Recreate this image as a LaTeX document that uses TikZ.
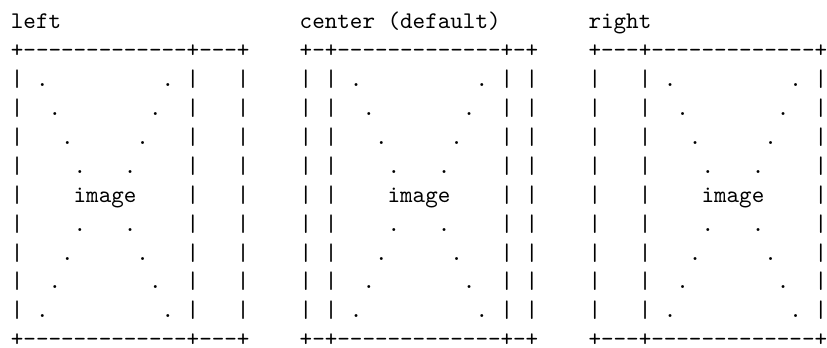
\documentclass[tikz,border=0pt]{standalone}
\begin{document}
\begin{tikzpicture}[x=5.25pt,y=12.11pt]
\tikzstyle{every node}+=[inner sep=0pt,anchor=base west,font=\ttfamily]
\useasboundingbox (-0.83,0.977) rectangle (65.03,-11.003);
% left
\draw (0,0) node (left) {left};
\draw (0,-1) node (l1) {+-------------+---+};
\draw (0,-2) node (l2) {|~.~~~~~~~~~.~|~~~|};
\draw (0,-3) node (l3) {|~~.~~~~~~~.~~|~~~|};
\draw (0,-4) node (l4) {|~~~.~~~~~.~~~|~~~|};
\draw (0,-5) node (l5) {|~~~~.~~~.~~~~|~~~|};
\draw (0,-6) node (l6) {|~~~~image~~~~|~~~|};
\draw (0,-7) node (l7) {|~~~~.~~~.~~~~|~~~|};
\draw (0,-8) node (l8) {|~~~.~~~~~.~~~|~~~|};
\draw (0,-9) node (l9) {|~~.~~~~~~~.~~|~~~|};
\draw (0,-10) node (l10) {|~.~~~~~~~~~.~|~~~|};
\draw (0,-11) node[text depth=0pt] (l11) {+-------------+---+};
% center
\draw (23,0) node (center) {center (default)};
\draw (23,-1) node (c1) {+-+-------------+-+};
\draw (23,-2) node (c2) {|~|~.~~~~~~~~~.~|~|};
\draw (23,-3) node (c3) {|~|~~.~~~~~~~.~~|~|};
\draw (23,-4) node (c4) {|~|~~~.~~~~~.~~~|~|};
\draw (23,-5) node (c5) {|~|~~~~.~~~.~~~~|~|};
\draw (23,-6) node (c6) {|~|~~~~image~~~~|~|};
\draw (23,-7) node (c7) {|~|~~~~.~~~.~~~~|~|};
\draw (23,-8) node (c8) {|~|~~~.~~~~~.~~~|~|};
\draw (23,-9) node (c9) {|~|~~.~~~~~~~.~~|~|};
\draw (23,-10) node (c10) {|~|~.~~~~~~~~~.~|~|};
\draw (23,-11) node[text depth=0pt] (c11) {+-+-------------+-+};
% right
\draw (46,0) node (right) {right};
\draw (46,-1) node (r1) {+---+-------------+};
\draw (46,-2) node (r2) {|~~~|~.~~~~~~~~~.~|};
\draw (46,-3) node (r3) {|~~~|~~.~~~~~~~.~~|};
\draw (46,-4) node (r4) {|~~~|~~~.~~~~~.~~~|};
\draw (46,-5) node (r5) {|~~~|~~~~.~~~.~~~~|};
\draw (46,-6) node (r6) {|~~~|~~~~image~~~~|};
\draw (46,-7) node (r7) {|~~~|~~~~.~~~.~~~~|};
\draw (46,-8) node (r8) {|~~~|~~~.~~~~~.~~~|};
\draw (46,-9) node (r9) {|~~~|~~.~~~~~~~.~~|};
\draw (46,-10) node (r10) {|~~~|~.~~~~~~~~~.~|};
\draw (46,-11) node[text depth=0pt] (r11) {+---+-------------+};
\end{tikzpicture}
\end{document}
